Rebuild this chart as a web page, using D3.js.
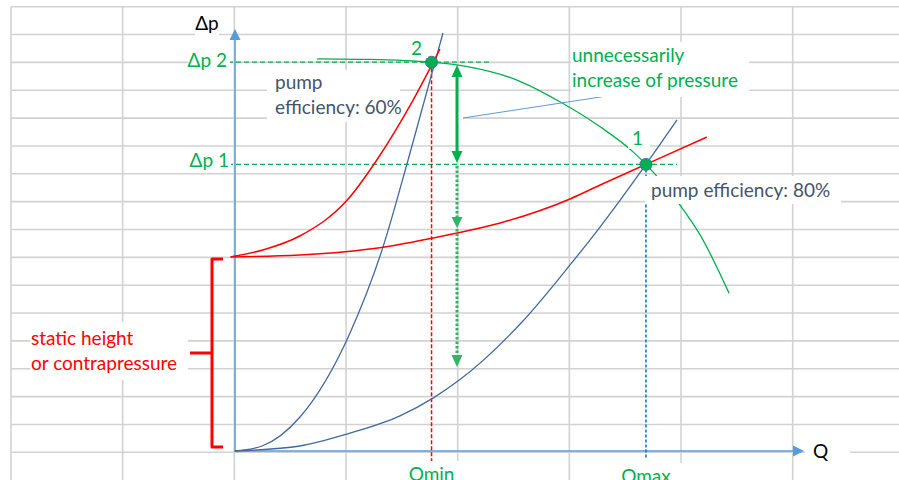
<!DOCTYPE html>
<html>
<head>
<meta charset="utf-8">
<script src="https://cdn.jsdelivr.net/npm/d3@7"></script>
<style>
  body { margin: 0; background: #fff; }
  svg { display: block; }
  text { font-family: Lato, "Open Sans", sans-serif; font-size: 19px; }
</style>
</head>
<body>
<script>
// pump curve vs system curves (throttled / open valve)

const width = 899,
    height = 480

// operating points
const qMin = 35.2, qMax = 73.6
const dp2 = 139.6, dp1 = 102.9
const staticHeight = 70

// [Q, dp]
const pumpCurve = [[14.7, 140.8], [23.6, 140.6], [35.2, 139.6], [41.6, 138.0], [50.5, 133.2], [58.2, 125.4],
    [65.4, 116.4], [71.3, 107.4], [73.6, 102.9], [79.7, 88.3], [83.3, 77.6], [88.5, 56.6]]
const systemThrottled = [[-0.8, 69.7], [5.0, 72.2], [11.6, 77.2], [20.1, 90.1], [25.4, 104.5], [31.9, 126.0],
    [36.7, 144.3]]
const systemOpen = [[-0.8, 69.7], [11.6, 70.4], [26.5, 73.2], [35.5, 76.5], [39.8, 78.3], [47.5, 81.9],
    [60.0, 90.5], [65.4, 95.5], [73.6, 102.9], [84.5, 112.7]]
const parabolaSteep = [[0, 0], [4.84, 1.8], [11.64, 12.2], [20.6, 42.4], [26.5, 73.2], [31.0, 104.5],
    [37.25, 150.1]]
const parabolaFlat = [[0, 0], [11.64, 1.8], [20.06, 6.1], [29.55, 12.6], [35.46, 19.0], [39.94, 25.1],
    [51.4, 46.3], [60.0, 66.8], [65.37, 80.4], [73.6, 102.9], [79.16, 118.9]]

const green = "#00b050", red = "#ff0000", slate = "#44546a", axisBlue = "#5b9bd5"

const svg = d3.select("body").append("svg")
    .attr("width", width)
    .attr("height", height)

const x = d3.scaleLinear().domain([0, 100]).range([235, 793.35])
const y = d3.scaleLinear().domain([0, 100]).range([451, 172.5])

// spreadsheet grid in the background
const colW = 111.67, rowH = 27.85, gx0 = 11, gy0 = 6.7
const grid = svg.append("g").attr("stroke", "#d2d2d2").attr("stroke-width", 1.6)
grid.selectAll(".v").data(d3.range(8)).join("line").attr("class", "v")
    .attr("x1", i => gx0 + i * colW).attr("x2", i => gx0 + i * colW)
    .attr("y1", gy0).attr("y2", height)
grid.selectAll(".h").data(d3.range(17)).join("line").attr("class", "h")
    .attr("x1", gx0).attr("x2", width)
    .attr("y1", i => gy0 + i * rowH).attr("y2", i => gy0 + i * rowH)

// a bit of grid hidden below the curves
svg.append("rect").attr("x", 400).attr("y", 112).attr("width", 63).attr("height", 12).attr("fill", "#fff")

// axes with arrow heads
const x0 = x(0), y0 = y(0)
svg.append("path").attr("d", `M${x0},${y0 + 1}V39`).attr("stroke", axisBlue).attr("stroke-width", 1.5)
svg.append("path").attr("d", `M${x0 - 5.5},40L${x0 + 5.5},40L${x0},29Z`).attr("fill", axisBlue)
svg.append("path").attr("d", `M${x0 - 1},${y0}H793`).attr("stroke", axisBlue).attr("stroke-width", 1.5)
svg.append("path").attr("d", `M793,${y0 - 5.5}L793,${y0 + 5.5}L804,${y0}Z`).attr("fill", axisBlue)

// helper lines
svg.append("line").attr("x1", 228).attr("x2", 490).attr("y1", y(dp2)).attr("y2", y(dp2))
    .attr("stroke", green).attr("stroke-width", 1.3).attr("stroke-dasharray", "5,3")
svg.append("line").attr("x1", 228).attr("x2", 677).attr("y1", y(dp1)).attr("y2", y(dp1))
    .attr("stroke", green).attr("stroke-width", 1.3).attr("stroke-dasharray", "5,3")
svg.append("line").attr("x1", x(qMin)).attr("x2", x(qMin)).attr("y1", y(dp2)).attr("y2", 461)
    .attr("stroke", red).attr("stroke-width", 1.5).attr("stroke-dasharray", "4,2")
svg.append("line").attr("x1", x(qMax)).attr("x2", x(qMax)).attr("y1", y(dp1)).attr("y2", 459)
    .attr("stroke", "#0070c0").attr("stroke-width", 1.5).attr("stroke-dasharray", "3,2")

// curves
const line = d3.line()
    .x(d => x(d[0]))
    .y(d => y(d[1]))
    .curve(d3.curveMonotoneX)

const curves = [
    { data: parabolaSteep, color: "#41699f", w: 1.3 },
    { data: parabolaFlat, color: "#41699f", w: 1.3 },
    { data: systemThrottled, color: red, w: 1.5 },
    { data: systemOpen, color: red, w: 1.5 },
    { data: pumpCurve, color: green, w: 1.3 }
]
svg.append("g").selectAll("path").data(curves).join("path")
    .attr("d", d => line(d.data))
    .attr("fill", "none")
    .attr("stroke", d => d.color)
    .attr("stroke-width", d => d.w)

// callout leader
svg.append("line").attr("x1", 463).attr("y1", 118).attr("x2", 607).attr("y2", 96)
    .attr("stroke", axisBlue).attr("stroke-width", 1)

// arrows showing the extra pressure
const ax = 457
svg.append("line").attr("x1", ax).attr("x2", ax).attr("y1", 76).attr("y2", 152)
    .attr("stroke", green).attr("stroke-width", 3)
svg.append("path").attr("d", `M${ax - 5.5},77L${ax + 5.5},77L${ax},65Z`).attr("fill", green)
svg.append("path").attr("d", `M${ax - 5.5},151L${ax + 5.5},151L${ax},163Z`).attr("fill", green)

const dotted = "#33b46b"
svg.append("line").attr("x1", ax).attr("x2", ax).attr("y1", 166).attr("y2", 218)
    .attr("stroke", dotted).attr("stroke-width", 3).attr("stroke-dasharray", "2.5,2")
svg.append("path").attr("d", `M${ax - 5.5},217L${ax + 5.5},217L${ax},228Z`).attr("fill", dotted)
svg.append("line").attr("x1", ax).attr("x2", ax).attr("y1", 229).attr("y2", 356)
    .attr("stroke", dotted).attr("stroke-width", 3).attr("stroke-dasharray", "2.5,2")
svg.append("path").attr("d", `M${ax - 5.5},355L${ax + 5.5},355L${ax},367Z`).attr("fill", dotted)

// static height brace
const bTop = y(staticHeight) + 3, bBot = y0 - 4, bMid = (bTop + bBot) / 2
svg.append("path")
    .attr("d", `M223,${bTop}H212V${bBot}H223M212,${bMid}H190`)
    .attr("fill", "none").attr("stroke", red).attr("stroke-width", 3)
    .attr("stroke-linejoin", "round")

// operating points
svg.append("g").selectAll("circle").data([[qMin, dp2], [qMax, dp1]]).join("circle")
    .attr("cx", d => x(d[0]))
    .attr("cy", d => y(d[1]))
    .attr("r", 6)
    .attr("fill", green)
    .attr("stroke", "#41719c")
    .attr("stroke-width", 1)

// white text boxes that hide the grid
const boxes = [[195, 12, 24, 26], [188, 48, 42, 26], [189, 150, 42, 22], [409, 36, 19, 22], [628, 128, 22, 21],
    [267, 70, 133, 52], [571, 42, 178, 55], [645, 176, 196, 28], [30, 322, 158, 58],
    [805, 440, 45, 26], [395, 461, 71, 19], [625, 463, 70, 17]]
svg.append("g").selectAll("rect").data(boxes).join("rect")
    .attr("x", d => d[0]).attr("y", d => d[1])
    .attr("width", d => d[2]).attr("height", d => d[3])
    .attr("fill", "#fff")

function label(txt, tx, ty, color, anchor) {
    svg.append("text")
        .attr("x", tx).attr("y", ty)
        .attr("fill", color)
        .attr("text-anchor", anchor || "start")
        .text(txt)
}

label("Δp", 207, 30, "#000", "middle")
label("Δp 2", 227, y(dp2) + 5, green, "end")
label("Δp 1", 229, y(dp1) + 2.5, green, "end")
label("2", 411, 55, green)
label("1", 632, 145, green)
label("pump", 275, 89, slate)
label("efficiency: 60%", 275, 114, slate)
label("unnecessarily", 572, 62, green)
label("increase of pressure", 572, 87, green)
label("pump efficiency: 80%", 651, 197, slate)
label("static height", 31, 345, red)
label("or contrapressure", 31, 370, red)
label("Q", 813, 458, "#000")
label("Qmin", x(qMin), 481, green, "middle")
label("Qmax", x(qMax), 483, green, "middle")
</script>
</body>
</html>
